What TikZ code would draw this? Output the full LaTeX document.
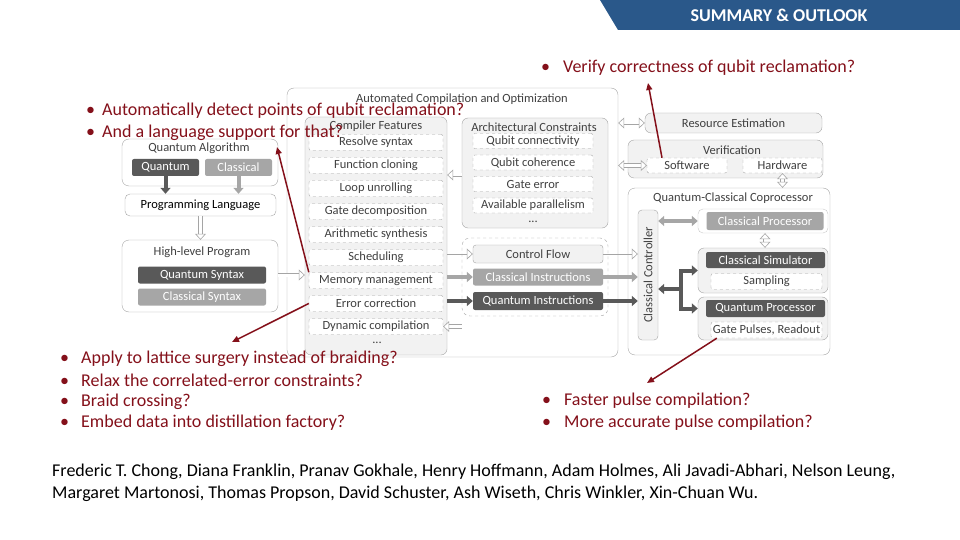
\documentclass[tikz,border=0pt]{standalone}
\usepackage{fontspec}
\setmainfont{Carlito}
\usetikzlibrary{arrows.meta}

\definecolor{qred}{RGB}{132,16,26}
\definecolor{bannerblue}{RGB}{42,88,138}
\definecolor{dkbox}{RGB}{89,89,89}
\definecolor{ltbox}{RGB}{166,166,166}
\definecolor{panel}{RGB}{242,242,242}
\definecolor{edge}{RGB}{165,165,165}
\definecolor{lbl}{RGB}{64,64,64}

\newcommand\bul[1]{\makebox[#1][l]{\textbullet}}

\tikzset{
  hollowtip/.tip={Triangle[open, length=6pt, width=11pt, fill=white, line width=0.6pt]},
  fattip/.tip={Triangle[length=6pt, width=10pt]},
  panelbox/.style={draw=edge, fill=panel, rounded corners=6pt, inner sep=0pt},
  openbox/.style={draw=edge, fill=white, rounded corners=7pt, inner sep=0pt},
  dashbox/.style={draw=edge, dashed, fill=white, rounded corners=2pt, inner sep=0pt, text=lbl},
  darkbox/.style={fill=dkbox, text=white, rounded corners=2pt, inner sep=0pt},
  greybox/.style={fill=ltbox, text=white, rounded corners=2pt, inner sep=0pt},
  title/.style={text=lbl, inner sep=0pt},
  hollow/.style={draw=edge, double=white, double distance=3pt, line width=0.6pt, -hollowtip},
  hollowboth/.style={hollow, hollowtip-hollowtip},
  thinflow/.style={draw=edge, line width=0.6pt, -hollowtip},
  fatgrey/.style={draw=ltbox, line width=4pt, -fattip},
  fatdark/.style={draw=dkbox, line width=4pt, -fattip},
  redarrow/.style={draw=qred, line width=1.5pt, -{Triangle[length=7pt, width=6pt]}},
  redtxt/.style={text=qred, inner sep=0pt, anchor=west, font=\fontsize{18}{21}\selectfont},
}

\begin{document}
\begin{tikzpicture}[x=1pt, y=-1pt, font=\fontsize{12.5}{14}\selectfont]
\useasboundingbox (0,0) rectangle (960,540);

% banner
\fill[bannerblue] (600,0) -- (960,0) -- (960,30) -- (618,30) -- cycle;
\node[text=white, font=\fontsize{18}{20}\selectfont\bfseries] (hdr) at (779,15) {SUMMARY \& OUTLOOK};

% left column
\node[openbox, minimum width=156, minimum height=47] (algo) at (200,162.5) {};
\node[title] (algot) at (199,148) {Quantum Algorithm};
\node[darkbox, minimum width=67, minimum height=17] (qalg) at (165.5,167.5) {Quantum};
\node[greybox, minimum width=67, minimum height=17] (calg) at (238.5,167.5) {Classical};
\node[openbox, rounded corners=5pt, minimum width=151, minimum height=22] (plang) at (200.5,205) {Programming Language};
\node[openbox, minimum width=156, minimum height=72] (hlp) at (200,276) {};
\node[title] (hlpt) at (202,252) {High-level Program};
\node[darkbox, minimum width=128, minimum height=17] (qsyn) at (202,275) {Quantum Syntax};
\node[greybox, minimum width=128, minimum height=17] (csyn) at (202,297) {Classical Syntax};

\draw[fatdark] (qalg.south) -- (qalg.south |- plang.north);
\draw[fatgrey] (calg.south) -- (calg.south |- plang.north);
\draw[hollow] (plang.south) -- (plang.south |- hlp.north);

% compilation
\node[openbox, minimum width=331, minimum height=269] (auto) at (452.5,222.5) {};
\node[title] (autot) at (462,99) {Automated Compilation and Optimization};

\node[panelbox, minimum width=142, minimum height=238] (cf) at (376,236) {};
\node[title] (cft) at (376,126) {Compiler Features};
\node[dashbox, minimum width=134, minimum height=16] (rs) at (376,142.5) {Resolve syntax};
\node[dashbox, minimum width=134, minimum height=16] (fc) at (376,165.5) {Function cloning};
\node[dashbox, minimum width=134, minimum height=16] (lu) at (376,188.5) {Loop unrolling};
\node[dashbox, minimum width=134, minimum height=16] (gd) at (376,211.5) {Gate decomposition};
\node[dashbox, minimum width=134, minimum height=16] (as) at (376,234.5) {Arithmetic synthesis};
\node[dashbox, minimum width=134, minimum height=16] (sc) at (376,257.5) {Scheduling};
\node[dashbox, minimum width=134, minimum height=16] (mm) at (376,280.5) {Memory management};
\node[dashbox, minimum width=134, minimum height=16] (ec) at (376,303.5) {Error correction};
\node[dashbox, minimum width=134, minimum height=16] (dc) at (376,326.5) {Dynamic compilation};
\node[title] (cfdots) at (377,343) {...};

\node[panelbox, minimum width=146, minimum height=110] (ac) at (535,173) {};
\node[title] (act) at (534,127) {Architectural Constraints};
\node[dashbox, minimum width=120, minimum height=15] (qcon) at (533,141) {Qubit connectivity};
\node[dashbox, minimum width=120, minimum height=15] (qcoh) at (533,162.5) {Qubit coherence};
\node[dashbox, minimum width=120, minimum height=15] (gerr) at (533,184) {Gate error};
\node[dashbox, minimum width=120, minimum height=15] (apar) at (533,205.5) {Available parallelism};
\node[title] (acdots) at (533,222) {...};

\node[draw=edge, dashed, rounded corners=8pt, minimum width=146, minimum height=78, inner sep=0pt] (ic) at (535,277) {};
\node[draw=edge, fill=panel, rounded corners=3pt, minimum width=130, minimum height=18, inner sep=0pt, text=lbl] (cflow) at (538,254) {Control Flow};
\node[greybox, minimum width=130, minimum height=17] (cins) at (538,277) {Classical Instructions};
\node[darkbox, minimum width=130, minimum height=18] (qins) at (538,301) {Quantum Instructions};

\draw[hollow] (hlp.east |- qsyn) -- (cf.west |- qsyn);
\draw[hollow] (ac.west |- 0,175) -- (cf.east |- 0,175);
\draw[thinflow] (cf.east |- cflow) -- (cflow.west);
\draw[fatgrey] (cf.east |- cins) -- (cins.west);
\draw[fatdark] (cf.east |- qins) -- (qins.west);
\draw[hollow] (ic.west |- dc) -- (dc.east);

% right column
\node[panelbox, minimum width=177, minimum height=20, text=lbl] (re) at (733.5,123) {Resource Estimation};
\node[panelbox, minimum width=195, minimum height=38] (ver) at (725.5,159) {};
\node[title] (vert) at (732,150) {Verification};
\node[dashbox, minimum width=80, minimum height=15] (sw) at (687,165.5) {Software};
\node[dashbox, minimum width=79, minimum height=15] (hw) at (782.5,165.5) {Hardware};

\node[openbox, minimum width=202, minimum height=167] (qcc) at (729,271.5) {};
\node[title] (qcct) at (733,198) {Quantum-Classical Coprocessor};
\node[panelbox, rounded corners=4pt, minimum width=20, minimum height=130] (cc) at (648,275) {};
\node[title, rotate=90] (cct) at (cc.center) {Classical Controller};

\node[draw=edge!60, fill=white, rounded corners=5pt, minimum width=130, minimum height=24, inner sep=0pt] (cpg) at (763,221) {};
\node[greybox, minimum width=117, minimum height=18] (cp) at (765,221) {Classical Processor};
\node[panelbox, minimum width=130, minimum height=45] (csg) at (763,270.5) {};
\node[darkbox, minimum width=119, minimum height=16] (cs) at (765.5,260) {Classical Simulator};
\node[dashbox, minimum width=111, minimum height=16] (samp) at (766.5,281.5) {Sampling};
\node[panelbox, minimum width=130, minimum height=43] (qpg) at (763,318.5) {};
\node[darkbox, minimum width=119, minimum height=17] (qp) at (765.5,308.5) {Quantum Processor};
\node[dashbox, minimum width=111, minimum height=16] (gp) at (766.5,330) {Gate Pulses, Readout};

\draw[hollowboth] (auto.east |- re) -- (re.west);
\draw[hollowboth] (auto.east |- sw) -- (sw.west);
\draw[hollowboth] (hw.south) -- (hw.south |- qcc.north);
\draw[hollowboth] (cpg.south -| cp) -- (cp |- csg.north);
\draw[thinflow] (cflow.east) -- (cc.west |- cflow);
\draw[fatgrey] (cins.east) -- (cc.west |- cins);
\draw[fatdark] (qins.east) -- (cc.west |- qins);
\draw[fatgrey, fattip-fattip] (cc.east |- cp) -- (cpg.west);

\coordinate (fk) at (681,289);
\draw[fatdark, fattip-fattip, line join=miter] (csg.west) -- (fk |- csg.west) -- (fk |- qp.west) -- (qpg.west |- qp.west);
\draw[fatdark] (fk) -- (cc.east |- fk);

% questions
\node[redtxt] (verify) at (541,68) {\bul{22pt}Verify correctness of qubit reclamation?};
\node[redtxt] (detect) at (86,111) {\bul{16pt}Automatically detect points of qubit reclamation?};
\node[redtxt] (lang) at (86,133) {\bul{16pt}And a language support for that?};
\node[redtxt] (lattice) at (60,359) {\bul{21pt}Apply to lattice surgery instead of braiding?};
\node[redtxt] (relax) at (60,380) {\bul{21pt}Relax the correlated-error constraints?};
\node[redtxt] (braid) at (60,402) {\bul{21pt}Braid crossing?};
\node[redtxt] (embed) at (60,423) {\bul{21pt}Embed data into distillation factory?};
\node[redtxt] (faster) at (542,401) {\bul{22pt}Faster pulse compilation?};
\node[redtxt] (accur) at (542,423) {\bul{22pt}More accurate pulse compilation?};

\coordinate (vtip) at (648,83);
\coordinate (dtip) at (277,147);
\coordinate (ltip) at (232,342);
\coordinate (ptip) at (647,383);
\draw[redarrow] ([xshift=-25pt]sw.north) -- (vtip);
\draw[redarrow] (mm.north west) -- (dtip);
\draw[redarrow] (ec.west) -- (ltip);
\draw[redarrow] ([xshift=6pt]gp.south west) -- (ptip);

% authors
\node[inner sep=0pt, anchor=west, font=\fontsize{18}{21}\selectfont] (auth1) at (52,472) {Frederic T. Chong, Diana Franklin, Pranav Gokhale, Henry Hoffmann, Adam Holmes, Ali Javadi-Abhari, Nelson Leung,};
\node[inner sep=0pt, anchor=west, font=\fontsize{18}{21}\selectfont] (auth2) at (52,494) {Margaret Martonosi, Thomas Propson, David Schuster, Ash Wiseth, Chris Winkler, Xin-Chuan Wu.};
\end{tikzpicture}
\end{document}
